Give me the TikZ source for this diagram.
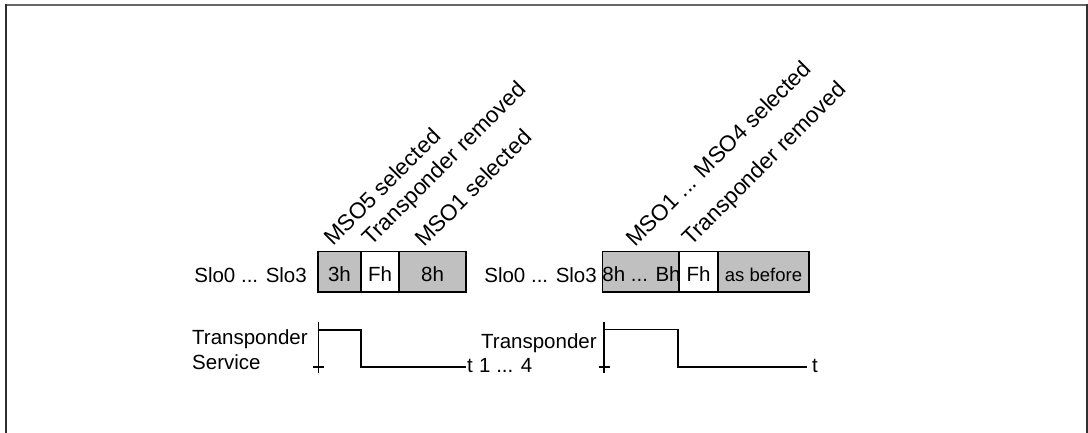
\documentclass[tikz,border=0pt]{standalone}
\usepackage{fontspec}
\setmainfont{Liberation Sans}
\definecolor{cellgray}{HTML}{C0C0C0}
\definecolor{frametop}{HTML}{666666}
\definecolor{frameside}{HTML}{303030}
\begin{document}
\begin{tikzpicture}[x=1pt,y=-1pt,
  txt/.style={font=\fontsize{20.5}{24}\selectfont, inner sep=0pt},
  rot/.style={inner sep=0pt, font=\fontsize{22.5}{26}\selectfont, rotate=45, anchor=base west},
  cell/.style={draw=black, line width=1.5pt, inner sep=0pt, minimum height=40.5pt,
    text height=20pt, text depth=0pt, font=\fontsize{20.5}{24}\selectfont},
  graycell/.style={cell, fill=cellgray},
  whitecell/.style={cell, fill=white},
  sig/.style={line width=1.5pt, line join=miter},
  axis/.style={line width=1.5pt}]
\useasboundingbox (0,0) rectangle (1088,432);
% frame
\draw[frametop, line width=2pt] (6,5) -- (1087,5);
\draw[frameside, line width=2pt] (6,4) -- (6,433);
\draw[frameside, line width=2pt] (1087,4) -- (1087,433);

% ---- left group ----
\node[txt, anchor=base east] (slo1) at (307,282) {Slo0 ... Slo3};
\node[graycell, minimum width=43pt] (c11) at (339.5,271.75) {3h};
\node[whitecell, minimum width=38pt] (c12) at (380,271.75) {Fh};
\node[graycell, minimum width=67pt] (c13) at (432.5,271.75) {8h};

\node[rot] (l11) at (333,247) {MSO5 selected};
\node[rot] (l12) at (371,247) {Transponder removed};
\node[rot] (l13) at (424,248) {MSO1 selected};

\node[txt, anchor=base west] (ts1a) at (192,344) {Transponder};
\node[txt, anchor=base west] (ts1b) at (192,369) {Service};

\coordinate (ax1top) at (318.7,322);
\coordinate (ax1bot) at (318.7,373);
\coordinate (tk1l) at (313,367);
\coordinate (tk1r) at (324,367);
\draw[axis] (ax1top) -- (ax1bot);
\draw[axis] (tk1l) -- (tk1r);
\coordinate (p1a) at (318.7,330);
\coordinate (p1b) at (361,330);
\coordinate (p1c) at (361,367);
\coordinate (p1d) at (466,367);
\draw[sig] (p1a) -- (p1b) -- (p1c) -- (p1d);
\node[txt, anchor=base west] (t1) at (467,372) {t};

% ---- right group ----
\node[txt, anchor=base east] (slo2) at (597,282) {Slo0 ... Slo3};
\node[graycell, minimum width=75pt] (c21) at (641.5,271.75) {8h ... Bh};
\node[whitecell, minimum width=39pt] (c22) at (698.5,271.75) {Fh};
\node[graycell, minimum width=91pt, font=\fontsize{18.5}{22}\selectfont] (c23) at (763.5,271.75) {as before};

\node[rot] (l21) at (635,248) {MSO1 ... MSO4 selected};
\node[rot] (l22) at (691,247) {Transponder removed};

\node[txt, anchor=base west] (ts2a) at (481,348) {Transponder};
\node[txt, anchor=base west] (ts2b) at (479,372) {1 ... 4};

\coordinate (ax2top) at (604,322);
\coordinate (ax2bot) at (604,373);
\coordinate (tk2l) at (599,367);
\coordinate (tk2r) at (610,367);
\draw[axis] (ax2top) -- (ax2bot);
\draw[axis] (tk2l) -- (tk2r);
\coordinate (p2a) at (604,329.5);
\coordinate (p2b) at (678,329.5);
\coordinate (p2c) at (678,367);
\coordinate (p2d) at (807,367);
\draw[sig] (p2a) -- (p2b) -- (p2c) -- (p2d);
\node[txt, anchor=base west] (t2) at (812,372) {t};
\end{tikzpicture}
\end{document}
